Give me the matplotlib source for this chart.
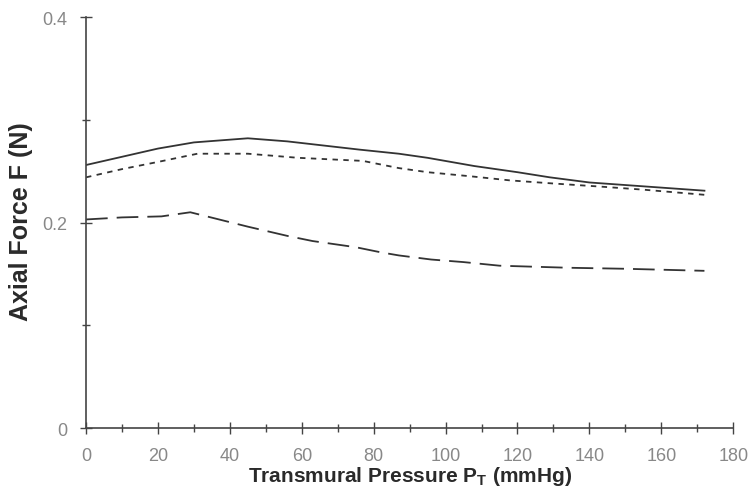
import matplotlib
matplotlib.use("Agg")
import matplotlib.pyplot as plt
from matplotlib.ticker import MultipleLocator

# values
p_solid = [0, 10, 20, 30, 45, 56, 66, 76, 87, 95, 108, 120, 129, 140, 148, 160, 172]
f_solid = [0.256, 0.264, 0.272, 0.278, 0.282, 0.279, 0.275, 0.271, 0.267, 0.263, 0.255, 0.249, 0.244, 0.239, 0.237, 0.234, 0.231]

p_short = [0, 10, 20, 31, 45, 59, 77, 87, 95, 107, 118, 130, 143, 155, 172]
f_short = [0.244, 0.252, 0.259, 0.267, 0.267, 0.263, 0.260, 0.253, 0.249, 0.245, 0.241, 0.238, 0.235, 0.232, 0.227]

p_long = [0, 10, 21, 29, 45, 56, 63, 75, 82, 87, 96, 105, 115, 134, 150, 172]
f_long = [0.203, 0.205, 0.206, 0.210, 0.196, 0.187, 0.182, 0.176, 0.171, 0.168, 0.164, 0.1615, 0.158, 0.156, 0.155, 0.153]

y_ticks = [0, 0.2, 0.4]
y_tick_labels = ['0', '0.2', '0.4']

fig = plt.figure(figsize=(7.52, 5.02), dpi=100)
ax = fig.add_axes([0.1144, 0.1454, 0.8606, 0.8186])

ax.plot(p_solid, f_solid, color='#333333', lw=1.3, ls='-')
ax.plot(p_short, f_short, color='#333333', lw=1.3, ls=(0, (3, 3)))
ax.plot(p_long, f_long, color='#333333', lw=1.3, ls=(0, (12, 5)))

ax.set_xlim(0, 180)
ax.set_ylim(0, 0.4)
ax.xaxis.set_major_locator(MultipleLocator(20))
ax.xaxis.set_minor_locator(MultipleLocator(10))
ax.yaxis.set_minor_locator(MultipleLocator(0.1))
ax.set_yticks(y_ticks)
ax.set_yticklabels(y_tick_labels)

for s in ['top', 'right']:
    ax.spines[s].set_visible(False)
for s in ['left', 'bottom']:
    ax.spines[s].set_color('#444444')
    ax.spines[s].set_linewidth(1.2)

ax.tick_params(which='both', direction='inout', color='#444444', width=1)
ax.tick_params(which='major', length=9, labelsize=13, labelcolor='#888888', pad=9)
ax.tick_params(which='minor', length=6)

ax.set_xlabel('Transmural Pressure P$_\\mathregular{T}$ (mmHg)', fontsize=15,
              family='Liberation Sans', fontweight='bold', color='#2a2a2a', labelpad=0)
ax.set_ylabel('Axial Force F (N)', fontsize=18, family='Liberation Sans',
              fontweight='bold', color='#2a2a2a')
ax.yaxis.set_label_coords(-0.082, 0.504)
for lab in ax.get_xticklabels() + ax.get_yticklabels():
    lab.set_family('Liberation Sans')

fig.savefig('out.png', dpi=100)
